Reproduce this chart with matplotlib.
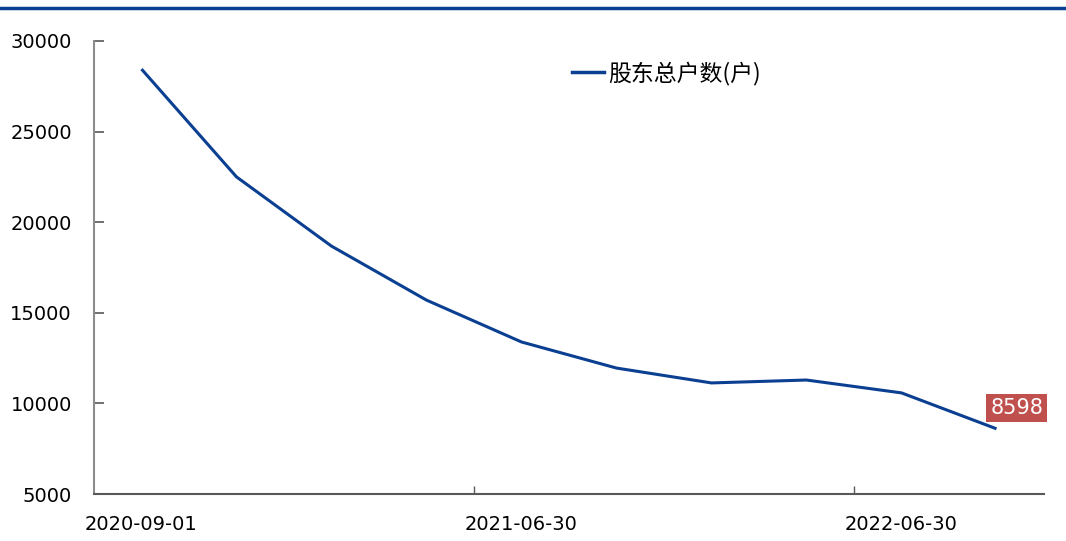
import matplotlib
matplotlib.use("Agg")
import matplotlib.pyplot as plt
from matplotlib.lines import Line2D

plt.rcParams['font.family'] = ['DejaVu Sans', 'Noto Sans CJK SC']

dates = ["2020-09-01", "2020-09-30", "2020-12-31", "2021-03-31", "2021-06-30",
         "2021-09-30", "2021-12-31", "2022-03-31", "2022-06-30", "2022-09-30"]
holders = [28450, 22500, 18680, 15700, 13390, 11950, 11130, 11290, 10580, 8598]
series_name = "股东总户数(户)"
y_ticks = [5000, 10000, 15000, 20000, 25000, 30000]

line_color = "#0b3f91"
label_color = "#c0504d"

fig = plt.figure(figsize=(10.66, 5.41), dpi=100)
ax = fig.add_axes([94 / 1066, 1 - 494 / 541, (1044 - 94) / 1066, (494 - 41) / 541])

x = list(range(len(dates)))
ax.plot(x, holders, color=line_color, lw=2.2, solid_capstyle="butt")

ax.set_xlim(-0.5, len(dates) - 0.5)
ax.set_ylim(5000, 30000)
ax.set_yticks(y_ticks)
ax.set_yticklabels([str(v) for v in y_ticks], fontsize=14)

# Category axis: labels every 4th point, tick marks on category boundaries
label_idx = [0, 4, 8]
ax.set_xticks(label_idx)
ax.set_xticklabels([dates[i] for i in label_idx], fontsize=14)
ax.tick_params(axis="x", which="major", length=0, pad=15)
ax.set_xticks([i - 0.5 for i in (4, 8)], minor=True)
ax.tick_params(axis="x", which="minor", direction="in", length=6, color="#595959", width=1)
ax.tick_params(axis="y", direction="in", length=7, width=1.2, color="#595959", pad=16)

for s in ("top", "right"):
    ax.spines[s].set_visible(False)
ax.spines["left"].set_color("#8c8c8c")
ax.spines["left"].set_linewidth(1.5)
ax.spines["bottom"].set_color("#595959")
ax.spines["bottom"].set_linewidth(1.5)

# Value label on the last point
ax.annotate(f"{holders[-1]}", xy=(x[-1], holders[-1]), xytext=(14.5, 15),
            textcoords="offset points", ha="center", va="center",
            fontsize=15, color="white",
            bbox=dict(boxstyle="square,pad=0.18", fc=label_color, ec="none"))

handle = Line2D([0], [0], color=line_color, lw=2.5)
ax.legend([handle], [series_name], loc="center left", bbox_to_anchor=(0.481, 0.929),
          frameon=False, handlelength=1.4, handletextpad=0.2,
          prop={"family": ["Noto Sans CJK SC", "DejaVu Sans"], "size": 16.5})

# Header rule across the top
fig.add_artist(Line2D([0, 1], [1 - 8 / 541, 1 - 8 / 541], color="#0b3f91", lw=2.5,
                      transform=fig.transFigure))

fig.savefig("out.png", dpi=100)
